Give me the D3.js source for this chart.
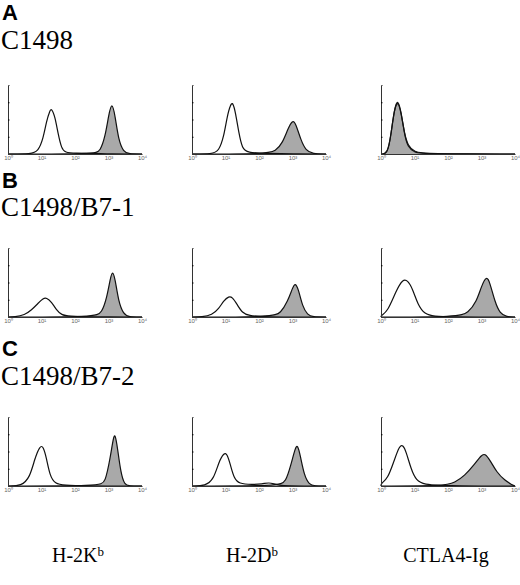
<!DOCTYPE html>
<html><head><meta charset="utf-8">
<script src="https://cdn.jsdelivr.net/npm/d3@7"></script>
<style>body{margin:0;background:#fff}</style>
</head><body>
<div id="chart"></div>
<script>
// rows / columns
const rowLetters = ["A", "B", "C"];
const rowLines = ["C1498", "C1498/B7-1", "C1498/B7-2"];
const colLabels = ["H-2K", "H-2D", "CTLA4-Ig"];
const colSup = ["b", "b", ""];
const tickLabels = ["10⁰", "10¹", "10²", "10³", "10⁴"];

// histograms: [log10 fluorescence, relative count 0-100]
const openCurves = [
  [[0.7,0],[0.9,4],[1.05,22],[1.15,48],[1.25,63],[1.3,66],[1.4,55],[1.5,28],[1.6,8],[1.7,2],[2.0,1],[2.6,1],[3,0]],
  [[0.6,0],[0.8,4],[0.95,25],[1.05,55],[1.15,72],[1.22,75],[1.3,60],[1.4,30],[1.5,8],[1.65,2],[2.2,1],[3,0]],
  [[0.2,0],[0.3,30],[0.4,65],[0.5,78],[0.6,60],[0.7,30],[0.8,12],[1.0,3],[1.3,0]],
  [[0.2,0],[0.5,3],[0.7,10],[0.9,20],[1.05,27],[1.15,28],[1.3,22],[1.45,10],[1.6,3],[1.8,1],[2.5,0]],
  [[0.3,0],[0.6,3],[0.8,12],[0.95,24],[1.1,30],[1.2,29],[1.35,18],[1.5,6],[1.7,2],[2.1,0]],
  [[0.0,2],[0.2,8],[0.45,38],[0.65,55],[0.8,53],[0.95,40],[1.1,18],[1.3,4],[1.6,1],[2.0,0]],
  [[0.4,0],[0.65,12],[0.8,40],[0.95,58],[1.05,58],[1.15,40],[1.25,15],[1.4,3],[1.7,1],[2.2,0]],
  [[0.4,0],[0.65,10],[0.8,35],[0.95,48],[1.05,47],[1.15,30],[1.25,12],[1.4,3],[1.8,2],[2.1,3],[2.3,5],[2.45,3],[2.6,1],[2.8,0]],
  [[0.0,4],[0.2,10],[0.4,38],[0.55,58],[0.65,60],[0.75,50],[0.9,24],[1.05,8],[1.3,2],[1.8,1],[2.2,0]]
];
const filledCurves = [
  [[2.6,0],[2.75,4],[2.9,25],[3.0,55],[3.1,77],[3.2,55],[3.3,20],[3.45,3],[3.6,0]],
  [[2.2,0],[2.5,4],[2.7,16],[2.85,35],[3.0,50],[3.1,44],[3.25,20],[3.4,5],[3.6,0]],
  [[0.2,0],[0.3,28],[0.4,66],[0.5,80],[0.6,62],[0.7,28],[0.8,10],[1.0,2],[1.3,0]],
  [[2.6,0],[2.8,6],[2.95,28],[3.05,55],[3.12,68],[3.2,55],[3.3,22],[3.45,4],[3.6,0]],
  [[2.4,0],[2.65,6],[2.85,22],[3.0,42],[3.08,50],[3.18,40],[3.3,15],[3.45,3],[3.6,0]],
  [[2.3,0],[2.6,6],[2.85,22],[3.0,45],[3.15,60],[3.25,50],[3.4,22],[3.55,5],[3.75,0]],
  [[2.75,0],[2.9,5],[3.05,40],[3.15,72],[3.2,75],[3.27,55],[3.37,18],[3.48,2],[3.6,0]],
  [[2.6,0],[2.8,6],[2.95,30],[3.08,55],[3.15,60],[3.23,45],[3.35,15],[3.5,2],[3.65,0]],
  [[1.9,0],[2.2,5],[2.5,15],[2.8,32],[3.0,45],[3.1,47],[3.25,38],[3.45,20],[3.7,8],[3.9,2],[4.0,0]]
];

const W = 520, H = 585;
const svg = d3.select("#chart").append("svg").attr("width", W).attr("height", H);

const colX = [8, 192, 381];
const plotW = 134;
const rowBase = [154, 317, 486];
const plotH = 69;
const rowTextY = [[20, 49], [188, 216], [356, 385]];

const x = d3.scaleLinear().domain([0, 4]).range([0, plotW]);
const y = d3.scaleLinear().domain([0, 100]).range([plotH, 0]);
const area = d3.area().x(d => x(d[0])).y0(plotH).y1(d => y(d[1])).curve(d3.curveBasis);
const line = d3.line().x(d => x(d[0])).y(d => y(d[1])).curve(d3.curveBasis);

rowLetters.forEach((L, r) => {
  svg.append("text").attr("x", 2).attr("y", rowTextY[r][0])
    .style("font-family", "Liberation Sans, Arial").style("font-weight", "bold")
    .style("font-size", "22px").text(L);
  svg.append("text").attr("x", 1).attr("y", rowTextY[r][1])
    .style("font-family", "Liberation Serif, Times New Roman").style("font-size", "27px")
    .text(rowLines[r]);

  colX.forEach((cx, c) => {
    const k = r * 3 + c;
    const g = svg.append("g").attr("transform", `translate(${cx},${rowBase[r] - plotH})`);
    const fill = [[0, 0]].concat(filledCurves[k], [[4, 0]]);
    g.append("path").datum(fill).attr("d", area).attr("fill", "#a9a9a9");
    g.append("path").datum(fill).attr("d", line).attr("fill", "none").attr("stroke", "#111").attr("stroke-width", 1.2);
    const open = [[0, 0]].concat(openCurves[k], [[4, 0]]);
    g.append("path").datum(open).attr("d", line).attr("fill", "none").attr("stroke", "#111").attr("stroke-width", 1.2);

    const ax = d3.axisBottom(x).tickValues([0, 1, 2, 3, 4]).tickSize(0).tickFormat((d, i) => tickLabels[i]);
    const xa = g.append("g").attr("transform", `translate(0,${plotH})`).call(ax);
    xa.select(".domain").attr("stroke", "#333");
    xa.selectAll("text").attr("dy", "0.5em").style("font-size", "6px").attr("fill", "#666");
    const ya = g.append("g").call(d3.axisLeft(y).tickValues([25, 50, 75]).tickSize(-1.5).tickFormat(""));
    ya.select(".domain").attr("stroke", "#333");
  });
});

const labX = [78, 252, 446];
colLabels.forEach((t, c) => {
  const tx = svg.append("text").attr("x", labX[c]).attr("y", 562)
    .attr("text-anchor", "middle")
    .style("font-family", "Liberation Serif, Times New Roman").style("font-size", "20px");
  tx.append("tspan").text(t);
  if (colSup[c]) tx.append("tspan").attr("dy", "-0.45em").style("font-size", "13px").text(colSup[c]);
});
</script>
</body></html>
